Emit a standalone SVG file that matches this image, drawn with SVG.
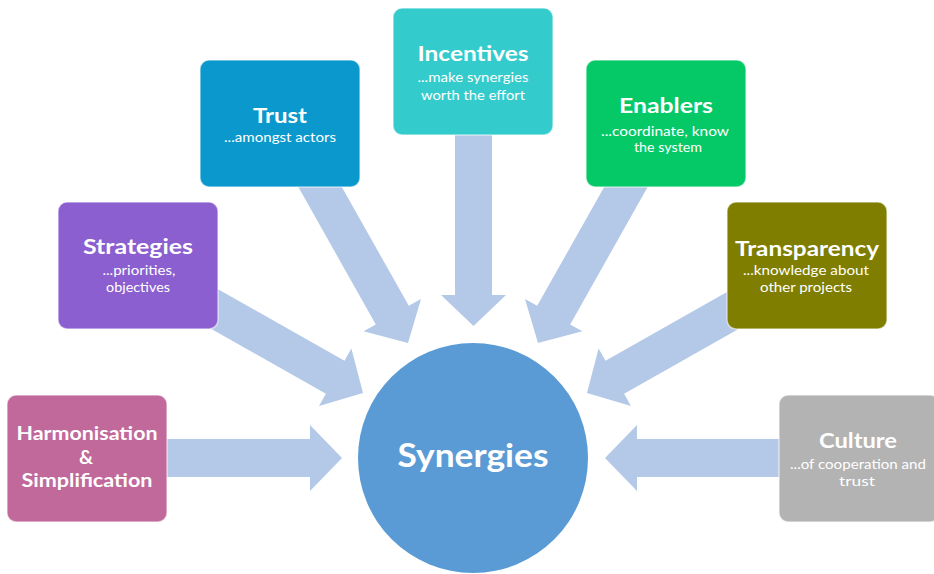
<svg xmlns="http://www.w3.org/2000/svg" width="934" height="574" viewBox="0 0 934 574">
<style>
.box{stroke:#ffffff;stroke-opacity:0.55;stroke-width:1.5}
.arrow{fill:#b4c8e7}
.t{font-family:Lato,"Liberation Sans",sans-serif;font-weight:bold;font-size:21px;fill:#ffffff;text-anchor:middle}
.h{font-family:Lato,"Liberation Sans",sans-serif;font-weight:bold;font-size:19.5px;fill:#ffffff;text-anchor:middle}
.s{font-family:Lato,"Liberation Sans",sans-serif;font-size:13px;fill:#ffffff;text-anchor:middle}
.c{font-family:Lato,"Liberation Sans",sans-serif;font-weight:bold;font-size:33px;fill:#ffffff;text-anchor:middle}
</style>
<rect width="934" height="574" fill="#ffffff"/>
<g id="connectors">
<polygon class="arrow" points="160,439 310,439 310,425 342,458 310,491 310,477 160,477"/>
<polygon class="arrow" points="790,439 637,439 637,425 605,458 637,491 637,477 790,477"/>
<polygon class="arrow" points="455,120 492,120 492,295 506,295 473.5,326 441,295 455,295"/>
<polygon class="arrow" points="327,160.7 408.8,305.8 421,298.9 408,343 363.6,331.3 375.8,324.4 294,179.3"/>
<polygon class="arrow" points="619,160.7 537.2,305.8 525,298.9 538,343 582.4,331.3 570.2,324.4 652,179.3"/>
<polygon class="arrow" points="209.3,284.3 344.5,360.8 351.4,348.6 363,393 319,406 325.9,393.8 190.7,317.3"/>
<polygon class="arrow" points="740.7,284.3 605.5,360.8 598.6,348.6 587,393 631,406 624.1,393.8 759.3,317.3"/>
</g>
<g id="harmonisation">
<rect class="box" x="7" y="395" width="160" height="127" rx="9" fill="#c0699a"/>
<text class="h" x="87" y="440" textLength="141" lengthAdjust="spacingAndGlyphs">Harmonisation</text>
<text class="h" x="86" y="464">&amp;</text>
<text class="h" x="87" y="487" textLength="131" lengthAdjust="spacingAndGlyphs">Simplification</text>
</g>
<g id="strategies">
<rect class="box" x="58" y="202" width="160" height="127" rx="9" fill="#8b5fcf"/>
<text class="t" x="138" y="254" textLength="110" lengthAdjust="spacingAndGlyphs">Strategies</text>
<text class="s" x="139" y="275" textLength="73" lengthAdjust="spacingAndGlyphs">...priorities,</text>
<text class="s" x="138" y="292" textLength="64" lengthAdjust="spacingAndGlyphs">objectives</text>
</g>
<g id="trust">
<rect class="box" x="200" y="60" width="160" height="127" rx="9" fill="#0b98cc"/>
<text class="t" x="280" y="123" textLength="54" lengthAdjust="spacingAndGlyphs">Trust</text>
<text class="s" x="280" y="142" textLength="112" lengthAdjust="spacingAndGlyphs">...amongst actors</text>
</g>
<g id="incentives">
<rect class="box" x="393" y="8" width="160" height="127" rx="9" fill="#34cbcc"/>
<text class="t" x="473" y="61" textLength="111" lengthAdjust="spacingAndGlyphs">Incentives</text>
<text class="s" x="473" y="82" textLength="111" lengthAdjust="spacingAndGlyphs">...make synergies</text>
<text class="s" x="473" y="100" textLength="104" lengthAdjust="spacingAndGlyphs">worth the effort</text>
</g>
<g id="enablers">
<rect class="box" x="586" y="60" width="160" height="127" rx="9" fill="#05c967"/>
<text class="t" x="666" y="113" textLength="94" lengthAdjust="spacingAndGlyphs">Enablers</text>
<text class="s" x="665" y="136" textLength="128" lengthAdjust="spacingAndGlyphs">...coordinate, know</text>
<text class="s" x="668" y="152" textLength="68" lengthAdjust="spacingAndGlyphs">the system</text>
</g>
<g id="transparency">
<rect class="box" x="727" y="202" width="160" height="127" rx="9" fill="#7f7e00"/>
<text class="t" x="807" y="256" textLength="144" lengthAdjust="spacingAndGlyphs">Transparency</text>
<text class="s" x="806" y="275" textLength="126" lengthAdjust="spacingAndGlyphs">...knowledge about</text>
<text class="s" x="806" y="292" textLength="92" lengthAdjust="spacingAndGlyphs">other projects</text>
</g>
<g id="culture">
<rect class="box" x="779" y="395" width="160" height="127" rx="9" fill="#b3b3b3"/>
<text class="t" x="858" y="448" textLength="78" lengthAdjust="spacingAndGlyphs">Culture</text>
<text class="s" x="858" y="469" textLength="136" lengthAdjust="spacingAndGlyphs">...of cooperation and</text>
<text class="s" x="857" y="486" textLength="36" lengthAdjust="spacingAndGlyphs">trust</text>
</g>
<g id="synergies">
<circle cx="473" cy="458" r="115" fill="#5b9bd5"/>
<text class="c" x="473" y="467" textLength="151" lengthAdjust="spacingAndGlyphs">Synergies</text>
</g>
</svg>
